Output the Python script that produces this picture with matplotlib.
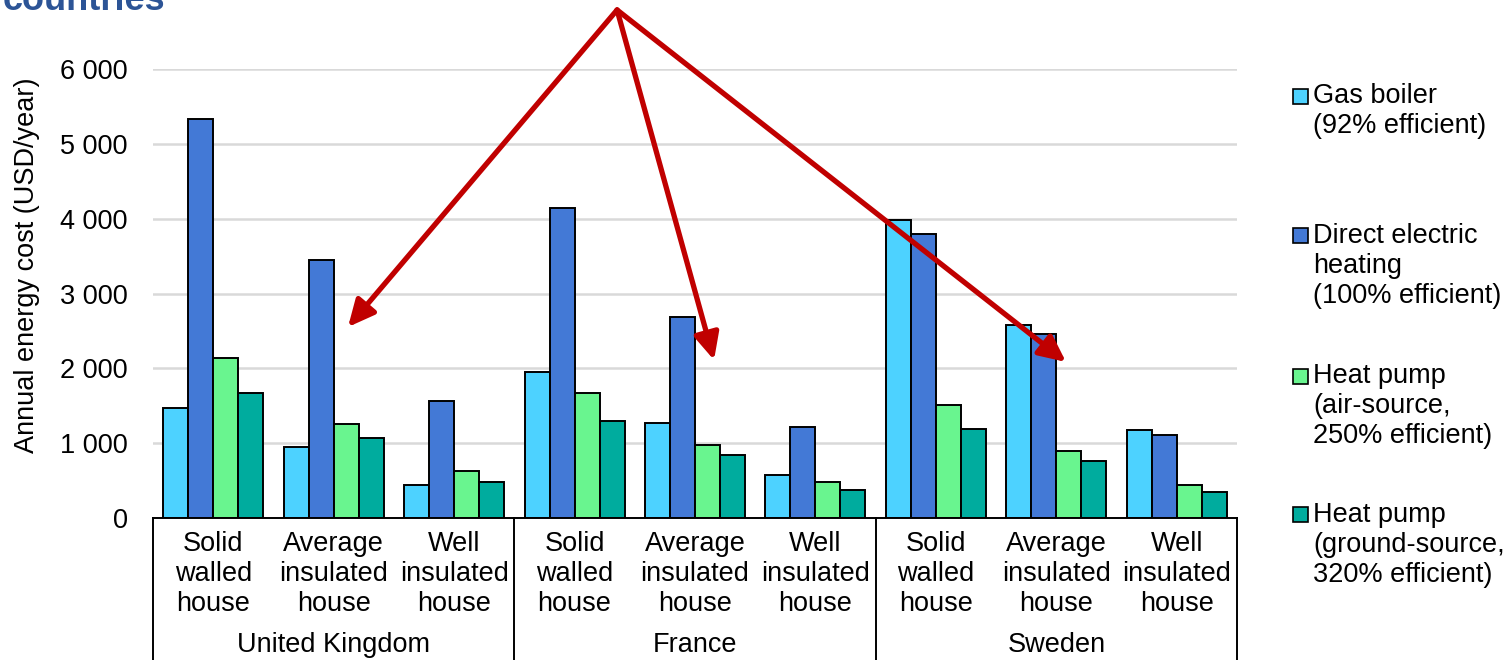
import matplotlib
matplotlib.use("Agg")
import matplotlib.pyplot as plt
from matplotlib.patches import Rectangle
import numpy as np

plt.rcParams["font.family"] = ["Liberation Sans", "DejaVu Sans"]

countries = ["United Kingdom", "France", "Sweden"]
houses = ["Solid\nwalled\nhouse", "Average\ninsulated\nhouse", "Well\ninsulated\nhouse"]
series = [
    "Gas boiler\n(92% efficient)",
    "Direct electric\nheating\n(100% efficient)",
    "Heat pump\n(air-source,\n250% efficient)",
    "Heat pump\n(ground-source,\n320% efficient)",
]
colors = ["#4DD2FF", "#4379D6", "#69F58F", "#00AC9E"]

# one value per house type, in order UK x3, France x3, Sweden x3
gas_boiler = [1475, 953, 441, 1955, 1274, 579, 3983, 2579, 1176]
direct_electric = [5328, 3448, 1568, 4147, 2690, 1220, 3795, 2455, 1109]
heat_pump_air = [2134, 1256, 628, 1667, 976, 485, 1510, 895, 441]
heat_pump_ground = [1667, 1073, 485, 1300, 842, 374, 1185, 766, 343]
values = [gas_boiler, direct_electric, heat_pump_air, heat_pump_ground]

FS = 19.5
W, H = 1505, 660
fig = plt.figure(figsize=(W / 100, H / 100), dpi=100)
ax = fig.add_axes([153 / W, 1 - 518 / H, (1237 - 153) / W, (518 - 69) / H])

x = np.arange(len(gas_boiler))
w = 0.2076
for j, vals in enumerate(values):
    ax.bar(x + (j - 1.5) * w, vals, width=w, color=colors[j],
           edgecolor="black", linewidth=1.4, zorder=3)

ax.set_xlim(-0.5, len(x) - 0.5)
ax.set_ylim(0, 6000)
ax.set_yticks(np.arange(0, 6001, 1000))
ax.set_yticklabels([f"{v:,}".replace(",", " ") for v in range(0, 6001, 1000)])
ax.tick_params(axis="y", length=0, pad=18, labelsize=FS)
ax.set_xticks([])
ax.grid(axis="y", color="#D9D9D9", linewidth=1.8, zorder=0)
for s in ["top", "right", "left"]:
    ax.spines[s].set_visible(False)
ax.spines["bottom"].set_color("black")
ax.spines["bottom"].set_linewidth(1.4)
ax.spines["bottom"].set_zorder(4)

# two-level category axis
xt = ax.get_xaxis_transform()
for i in x:
    ax.text(i, -0.1247, houses[i % 3], transform=xt, ha="center", va="center",
            fontsize=FS, linespacing=1.2)
for k, c in enumerate(countries):
    ax.text(3 * k + 1, -0.283, c, transform=xt, ha="center", va="center", fontsize=FS)
for b in [-0.5, 2.5, 5.5, 8.5]:
    ax.plot([b, b], [0, -0.4], transform=xt, color="black", linewidth=1.4, clip_on=False)

fig.text(27 / W, 1 - 265 / H, "Annual energy cost (USD/year)", rotation=90,
         ha="center", va="center", fontsize=FS)

# title, cut at the top as in the source
fig.text(3 / W, 1 - 10 / H, "countries", ha="left", va="baseline", fontsize=26,
         fontweight="bold", color="#2C5496")

# red arrows
for tip in [(1.119, 2552), (4.158, 2111), (7.08, 2085)]:
    ax.annotate("", xy=tip, xytext=(3.353, 6789), xycoords="data",
                annotation_clip=False,
                arrowprops=dict(arrowstyle="-|>,head_length=0.8,head_width=0.38",
                                mutation_scale=20, color="#C00000", lw=3.8,
                                shrinkA=0, shrinkB=0))

# legend
centers = [111, 266, 406, 545]
first = [96, 235, 376, 514]
for j in range(4):
    fig.add_artist(Rectangle((1293 / W, 1 - (first[j] + 7.5) / H), 15 / W, 15 / H,
                             transform=fig.transFigure, facecolor=colors[j],
                             edgecolor="black", linewidth=1.2))
    fig.text(1313 / W, 1 - centers[j] / H, series[j], ha="left", va="center",
             fontsize=FS, linespacing=1.2)

fig.savefig("out.png", dpi=100)
